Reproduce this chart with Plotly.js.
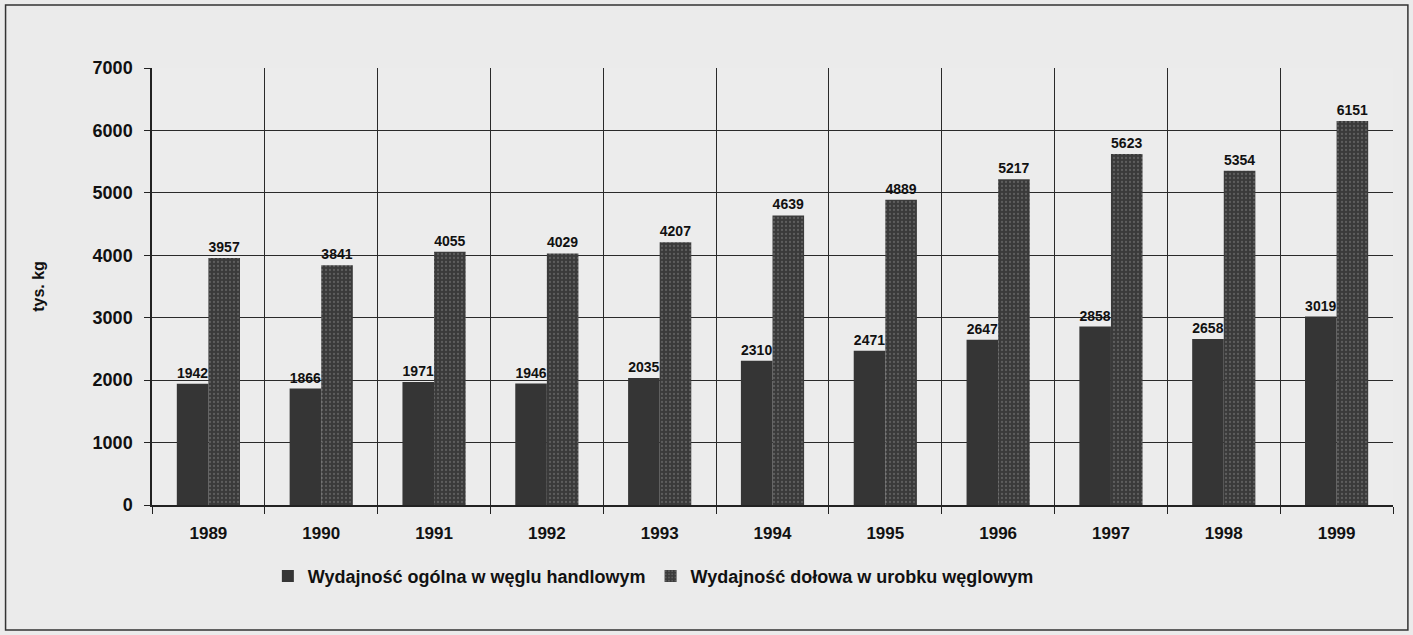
<!DOCTYPE html>
<html><head><meta charset="utf-8">
<script src="https://cdn.plot.ly/plotly-3.0.1.min.js"></script>
<style>html,body{margin:0;padding:0;background:#ebebeb}</style>
</head><body>
<div id="chart" style="width:1413px;height:635px"></div>
<script>
const years = ['1989','1990','1991','1992','1993','1994','1995','1996','1997','1998','1999'];
const ogolna = [1942,1866,1971,1946,2035,2310,2471,2647,2858,2658,3019];
const dolowa = [3957,3841,4055,4029,4207,4639,4889,5217,5623,5354,6151];
const seriesNames = ['Wydajność ogólna w węglu handlowym','Wydajność dołowa w urobku węglowym'];
const yTicks = [0,1000,2000,3000,4000,5000,6000,7000];

const fam = '"Liberation Sans", Arial, sans-serif';
const labelFont = {family:fam, color:'#111', size:14, weight:'bold'};

const traces = [
  {type:'bar', x:years, y:ogolna, name:seriesNames[0],
   marker:{color:'#353535', line:{width:0}},
   text:ogolna.map(String), textposition:'outside', cliponaxis:false,
   textfont:labelFont},
  {type:'bar', x:years, y:dolowa, name:seriesNames[1],
   marker:{color:'#3c3c3c', line:{width:0},
     pattern:{shape:'.', bgcolor:'#3a3a3a', fgcolor:'#5e5e5e', size:4, solidity:0.25}},
   text:dolowa.map(String), textposition:'outside', cliponaxis:false,
   textfont:labelFont}
];

const layout = {
  width:1413, height:635,
  paper_bgcolor:'#ebebeb', plot_bgcolor:'#ececec',
  margin:{l:152, r:20, t:68, b:130},
  font:{family:fam, color:'#111', size:14},
  barmode:'group', bargap:0.44, bargroupgap:0,
  showlegend:true,
  legend:{orientation:'h', x:0.404, xanchor:'center', y:-0.163, yanchor:'middle',
          font:{family:fam, size:18, color:'#111', weight:'bold'},
          bgcolor:'rgba(0,0,0,0)', itemwidth:30, tracegroupgap:0},
  xaxis:{type:'category', tickson:'boundaries', showgrid:true, gridcolor:'#2a2a2a', gridwidth:1,
         showline:true, linecolor:'#222', linewidth:1.5, ticks:'outside', ticklen:7, tickcolor:'#222',
         tickfont:{family:fam, size:17, color:'#111', weight:'bold'}, ticklabelstandoff:12},
  yaxis:{range:[0,7000], tickvals:yTicks, ticktext:yTicks.map(String),
         showgrid:true, gridcolor:'#2a2a2a', gridwidth:1, zeroline:false,
         showline:true, linecolor:'#222', linewidth:1.5, ticks:'outside', ticklen:6, tickcolor:'#222',
         tickfont:{family:fam, size:18, color:'#111', weight:'bold'}, ticklabelstandoff:8,
         title:{text:'tys. kg', standoff:44, font:{family:fam, size:16, color:'#111', weight:'bold'}}},
  shapes:[
    {type:'rect', xref:'paper', yref:'paper', x0:-0.118, x1:1.012, y0:-0.286, y1:1.144,
     line:{color:'#333', width:1.5}, fillcolor:'rgba(0,0,0,0)'}
  ]
};
Plotly.newPlot('chart', traces, layout, {displayModeBar:false});
</script>
</body></html>
